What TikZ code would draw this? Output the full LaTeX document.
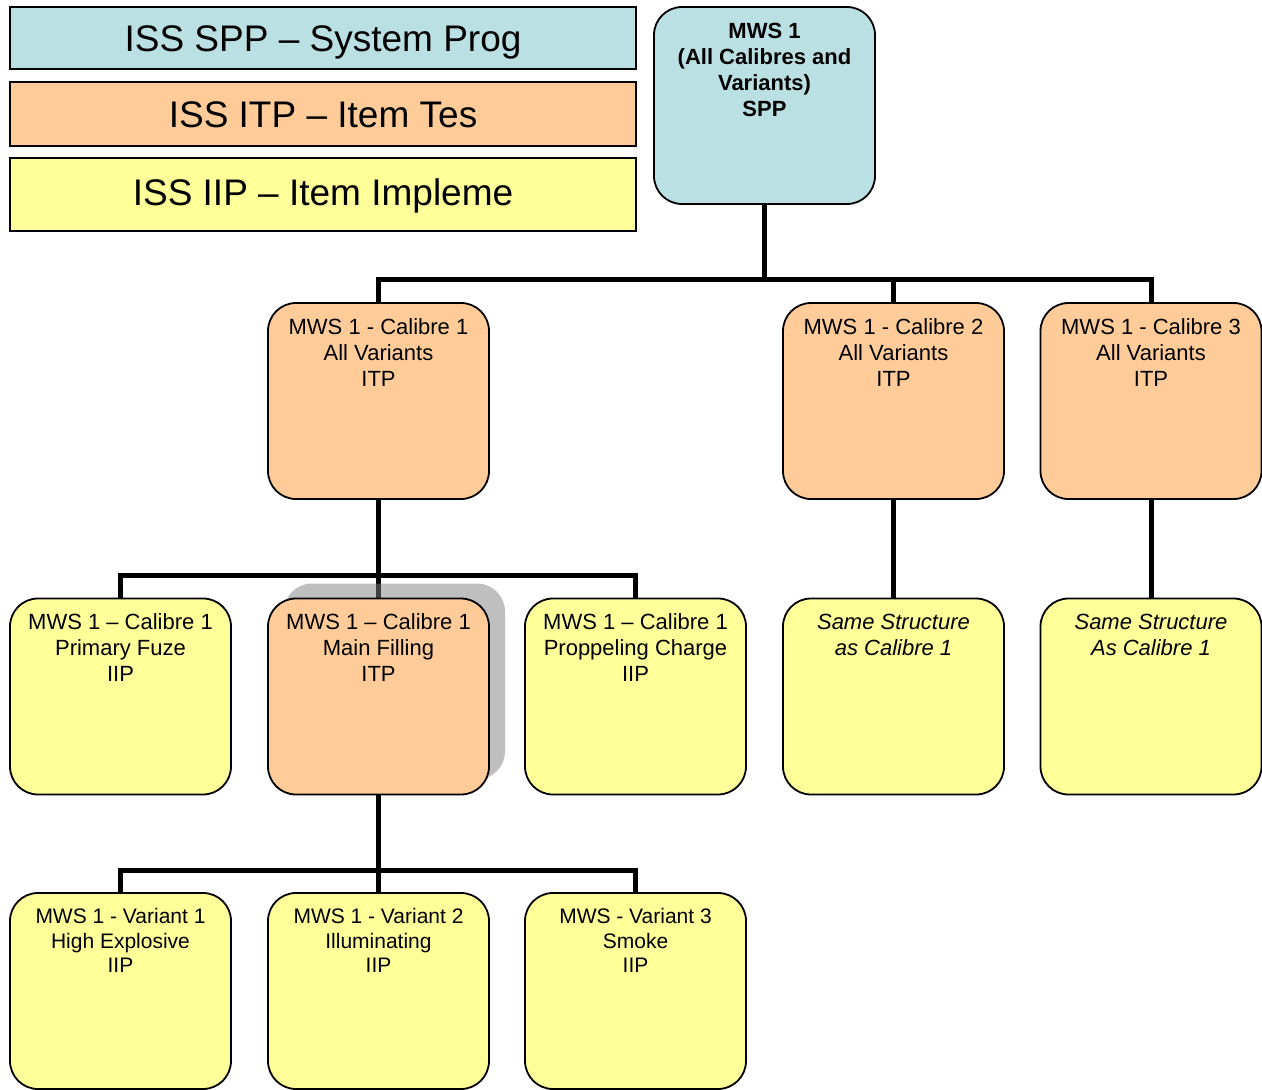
\documentclass[tikz,border=0pt]{standalone}
\usepackage{fontspec}
\setmainfont{Liberation Sans}
\definecolor{sppblue}{HTML}{BBE0E3}
\definecolor{itporange}{HTML}{FFCC99}
\definecolor{iipyellow}{HTML}{FFFF99}
\pgfdeclarelayer{links}
\pgfsetlayers{links,main}
\begin{document}
\begin{tikzpicture}[x=1pt,y=-1pt,
  box/.style={draw=black, line width=1.8pt, rounded corners=28pt,
    minimum width=221pt, minimum height=196pt, inner sep=0pt},
  sppbox/.style={box, fill=sppblue},
  itpbox/.style={box, fill=itporange},
  iipbox/.style={box, fill=iipyellow},
  txt/.style={anchor=north, inner sep=0pt, align=center,
    font=\fontsize{22}{26}\selectfont},
  lowtxt/.style={txt, font=\fontsize{21}{24.5}\selectfont},
  legend/.style={draw=black, line width=1.5pt, minimum width=626pt, inner sep=0pt},
  legtxt/.style={anchor=base, inner sep=0pt, font=\fontsize{37}{44}\selectfont},
  link/.style={line width=5pt, line join=miter}]
\useasboundingbox (0,0) rectangle (1262,1090);

% legend
\node[legend, fill=sppblue, minimum height=62pt] (leg1) at (323,38) {};
\node[legtxt] (leg1t) at (323,51) {ISS SPP – System Prog};
\node[legend, fill=itporange, minimum height=64pt] (leg2) at (323,114) {};
\node[legtxt] (leg2t) at (323,127) {ISS ITP – Item Tes};
\node[legend, fill=iipyellow, minimum height=73pt] (leg3) at (323,194.5) {};
\node[legtxt] (leg3t) at (323,205) {ISS IIP – Item Impleme};

% system level
\node[sppbox, minimum height=197pt] (top) at (764.5,105.5) {};
\node[txt, font=\fontsize{22}{26}\selectfont\bfseries] (topt) at ([yshift=-17pt]top.north)
  {MWS 1\\(All Calibres and\\Variants)\\SPP};

% calibres
\node[itpbox] (c1) at (378.5,401) {};
\node[txt] (c1t) at ([yshift=-16pt]c1.north) {MWS 1 - Calibre 1\\All Variants\\ITP};
\node[itpbox] (c2) at (893.5,401) {};
\node[txt] (c2t) at ([yshift=-16pt]c2.north) {MWS 1 - Calibre 2\\All Variants\\ITP};
\node[itpbox] (c3) at (1151,401) {};
\node[txt] (c3t) at ([yshift=-16pt]c3.north) {MWS 1 - Calibre 3\\All Variants\\ITP};

% items of calibre 1
\node[iipbox] (f1) at (120.5,696.5) {};
\node[txt] (f1t) at ([yshift=-16pt]f1.north) {MWS 1 – Calibre 1\\Primary Fuze\\IIP};
\node[box, draw=none, fill=black!50, fill opacity=0.5] (f2shadow) at (394.5,681.5) {};
\node[itpbox] (f2) at (378.5,696.5) {};
\node[txt] (f2t) at ([yshift=-16pt]f2.north) {MWS 1 – Calibre 1\\Main Filling\\ITP};
\node[iipbox] (f3) at (635.5,696.5) {};
\node[txt] (f3t) at ([yshift=-16pt]f3.north) {MWS 1 – Calibre 1\\Proppeling Charge\\IIP};
\node[iipbox] (s2) at (893.5,696.5) {};
\node[txt, font=\fontsize{22}{26}\selectfont\itshape] (s2t) at ([yshift=-16pt]s2.north)
  {Same Structure\\as Calibre 1};
\node[iipbox] (s3) at (1151,696.5) {};
\node[txt, font=\fontsize{22}{26}\selectfont\itshape] (s3t) at ([yshift=-16pt]s3.north)
  {Same Structure\\As Calibre 1};

% variants of the main filling
\node[iipbox] (v1) at (120.5,991) {};
\node[lowtxt] (v1t) at ([yshift=-16pt]v1.north) {MWS 1 - Variant 1\\High Explosive\\IIP};
\node[iipbox] (v2) at (378.5,991) {};
\node[lowtxt] (v2t) at ([yshift=-16pt]v2.north) {MWS 1 - Variant 2\\Illuminating\\IIP};
\node[iipbox] (v3) at (635.5,991) {};
\node[lowtxt] (v3t) at ([yshift=-16pt]v3.north) {MWS - Variant 3\\Smoke\\IIP};

% bus lines
\coordinate (bus1) at (0,279);
\coordinate (bus2) at (0,575);
\coordinate (bus3) at (0,870);

\begin{pgfonlayer}{links}
  \foreach \c in {c1,c2,c3}
    \draw[link] (top.south) -- (top.south |- bus1) -| (\c.north);
  \foreach \c in {f1,f2,f3}
    \draw[link] (c1.south) -- (c1.south |- bus2) -| (\c.north);
  \foreach \c in {v1,v2,v3}
    \draw[link] (f2.south) -- (f2.south |- bus3) -| (\c.north);
  \draw[link] (c2.south) -- (s2.north);
  \draw[link] (c3.south) -- (s3.north);
\end{pgfonlayer}
\end{tikzpicture}
\end{document}
